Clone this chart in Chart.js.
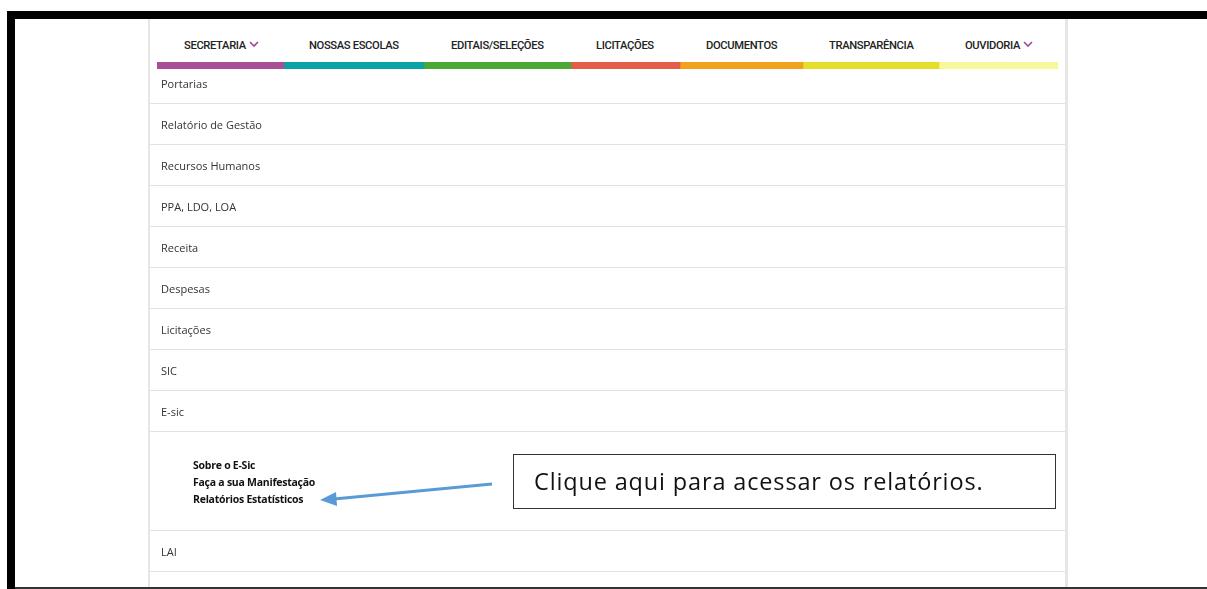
<!DOCTYPE html>
<html>
<head>
<meta charset="utf-8">
<script src="https://cdn.jsdelivr.net/npm/chart.js@4/dist/chart.umd.min.js"></script>
<style>
  html,body{margin:0;padding:0;background:#fff;width:1207px;height:589px;overflow:hidden;position:relative;}
  .frameTop{position:absolute;left:7px;top:11px;width:1200px;height:8px;background:#000;}
  .frameLeft{position:absolute;left:7px;top:11px;width:8px;height:578px;background:#000;}
  .frameBottom{position:absolute;left:15px;top:587px;width:1192px;height:2px;background:#333;}
  .panelL{position:absolute;left:148px;top:19px;width:2px;height:568px;background:#e6e6e6;}
  .panelR{position:absolute;left:1065px;top:19px;width:3px;height:568px;background:#e6e6e6;}
  .nav{position:absolute;top:39px;font-family:Roboto,sans-serif;font-weight:500;font-size:11.2px;color:#222;letter-spacing:-0.35px;white-space:nowrap;}
  .chev{display:inline-block;margin-left:3px;vertical-align:1px;}
  #strip{position:absolute;left:157px;top:62px;}
  .row{position:absolute;left:150px;width:915px;border-bottom:1px solid #e2e2e2;font-family:"Open Sans",sans-serif;font-size:11px;color:#333;}
  .row span{position:absolute;left:11px;}
  .sub{position:absolute;left:193px;font-family:"Open Sans",sans-serif;font-weight:700;font-size:10.5px;color:#111;letter-spacing:-0.25px;}
  .callout{position:absolute;left:513px;top:454px;width:541px;height:53px;border:1px solid #333;box-sizing:content-box;}
  .callout span{position:absolute;left:20px;top:10px;font-family:"Open Sans",sans-serif;font-size:23.5px;color:#111;letter-spacing:0.85px;white-space:nowrap;}
  svg.ov{position:absolute;left:0;top:0;}
</style>
</head>
<body>
<div class="frameTop"></div>
<div class="frameLeft"></div>
<div class="frameBottom"></div>
<div class="panelL"></div>
<div class="panelR"></div>

<div class="nav" style="left:184px">SECRETARIA<svg class="chev" width="10" height="7"><polyline points="1,1 5,5 9,1" fill="none" stroke="#a3479a" stroke-width="1.6"/></svg></div>
<div class="nav" style="left:309px">NOSSAS ESCOLAS</div>
<div class="nav" style="left:451px">EDITAIS/SELEÇÕES</div>
<div class="nav" style="left:596px">LICITAÇÕES</div>
<div class="nav" style="left:706px">DOCUMENTOS</div>
<div class="nav" style="left:829px">TRANSPARÊNCIA</div>
<div class="nav" style="left:965px">OUVIDORIA<svg class="chev" width="10" height="7"><polyline points="1,1 5,5 9,1" fill="none" stroke="#a3479a" stroke-width="1.6"/></svg></div>

<canvas id="strip" width="901" height="7" style="width:901px;height:7px"></canvas>

<div id="rows"></div>

<div class="sub" style="top:458px">Sobre o E-Sic</div>
<div class="sub" style="top:475px">Faça a sua Manifestação</div>
<div class="sub" style="top:492px">Relatórios Estatísticos</div>

<div class="callout"><span>Clique aqui para acessar os relatórios.</span></div>

<svg class="ov" width="1207" height="589">
  <line x1="492" y1="484" x2="334" y2="499" stroke="#5b9bd5" stroke-width="3"/>
  <polygon points="320,500 336,492 337,506" fill="#5b9bd5"/>
</svg>

<script>
// Menu items and the widths of the coloured underline segments
const menuItems = ["SECRETARIA","NOSSAS ESCOLAS","EDITAIS/SELEÇÕES","LICITAÇÕES","DOCUMENTOS","TRANSPARÊNCIA","OUVIDORIA"];
const segmentWidths = [127,140,147,109,123,136,119];
const segmentColors = ["#a84f98","#0aa3a8","#4aa834","#e45c4a","#f0a21c","#e3df2a","#f6f99a"];
const listItems = ["Portarias","Relatório de Gestão","Recursos Humanos","PPA, LDO, LOA","Receita","Despesas","Licitações","SIC","E-sic"];
const lastItem = "LAI";

// list rows
const rows = document.getElementById('rows');
let y = 63;
listItems.forEach(t => {
  const d = document.createElement('div');
  d.className = 'row';
  d.style.top = y + 'px';
  d.style.height = '40px';
  d.innerHTML = '<span style="top:13px">' + t + '</span>';
  rows.appendChild(d);
  y += 41;
});
// expanded E-sic panel
const exp = document.createElement('div');
exp.className = 'row';
exp.style.top = '433px';
exp.style.height = '97px';
rows.appendChild(exp);
const lai = document.createElement('div');
lai.className = 'row';
lai.style.top = '531px';
lai.style.height = '40px';
lai.innerHTML = '<span style="top:13px">' + lastItem + '</span>';
rows.appendChild(lai);

// coloured underline as a stacked horizontal bar
new Chart(document.getElementById('strip'), {
  type: 'bar',
  data: {
    labels: ['menu'],
    datasets: menuItems.map((m, i) => ({
      label: m,
      data: [segmentWidths[i]],
      backgroundColor: segmentColors[i],
      borderWidth: 0,
      barPercentage: 1,
      categoryPercentage: 1
    }))
  },
  options: {
    indexAxis: 'y',
    responsive: false,
    animation: false,
    layout: {padding: 0},
    plugins: {legend: {display: false}, tooltip: {enabled: false}},
    scales: {
      x: {stacked: true, display: false, min: 0, max: segmentWidths.reduce((a,b)=>a+b,0)},
      y: {stacked: true, display: false}
    }
  }
});
</script>
</body>
</html>
